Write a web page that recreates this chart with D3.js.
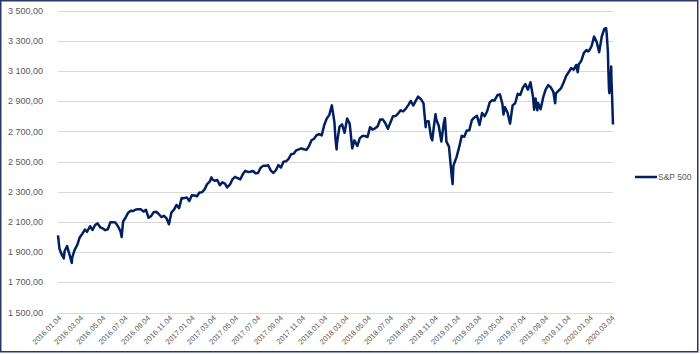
<!DOCTYPE html>
<html>
<head>
<meta charset="utf-8">
<script src="https://cdn.jsdelivr.net/npm/d3@7"></script>
<style>
  html, body { margin: 0; padding: 0; background: #fff; }
  svg { display: block; font-family: "Liberation Sans", Arial, sans-serif; }
  .grid line { stroke: #d9d9d9; stroke-width: 1; }
  .tick-label { fill: #595959; }
</style>
</head>
<body>
<div id="chart"></div>
<script>
// S&P 500 closes (weekly, plus the sharp turning days)
const sp500 = [
  ["2016-01-04", 2012], ["2016-01-08", 1922], ["2016-01-15", 1880], ["2016-01-20", 1859],
  ["2016-01-22", 1906], ["2016-01-29", 1940], ["2016-02-05", 1880], ["2016-02-11", 1829],
  ["2016-02-12", 1864], ["2016-02-19", 1917], ["2016-02-26", 1948], ["2016-03-04", 1999],
  ["2016-03-11", 2022], ["2016-03-18", 2049], ["2016-03-24", 2035], ["2016-04-01", 2072],
  ["2016-04-08", 2047], ["2016-04-15", 2080], ["2016-04-22", 2091], ["2016-04-29", 2065],
  ["2016-05-06", 2057], ["2016-05-13", 2046], ["2016-05-20", 2052], ["2016-05-27", 2099],
  ["2016-06-03", 2099], ["2016-06-10", 2096], ["2016-06-17", 2071], ["2016-06-24", 2037],
  ["2016-06-27", 2000], ["2016-07-01", 2103], ["2016-07-08", 2130], ["2016-07-15", 2162],
  ["2016-07-22", 2175], ["2016-07-29", 2173], ["2016-08-05", 2183], ["2016-08-12", 2184],
  ["2016-08-19", 2184], ["2016-08-26", 2169], ["2016-09-02", 2180], ["2016-09-09", 2128],
  ["2016-09-16", 2139], ["2016-09-23", 2165], ["2016-09-30", 2168], ["2016-10-07", 2153],
  ["2016-10-14", 2133], ["2016-10-21", 2141], ["2016-10-28", 2126], ["2016-11-04", 2085],
  ["2016-11-11", 2164], ["2016-11-18", 2182], ["2016-11-25", 2213], ["2016-12-02", 2192],
  ["2016-12-09", 2259], ["2016-12-16", 2258], ["2016-12-23", 2263], ["2016-12-30", 2239],
  ["2017-01-06", 2277], ["2017-01-13", 2275], ["2017-01-20", 2271], ["2017-01-27", 2295],
  ["2017-02-03", 2297], ["2017-02-10", 2316], ["2017-02-17", 2351], ["2017-02-24", 2367],
  ["2017-03-01", 2396], ["2017-03-03", 2383], ["2017-03-10", 2373], ["2017-03-17", 2378],
  ["2017-03-24", 2344], ["2017-03-31", 2363], ["2017-04-07", 2355], ["2017-04-13", 2329],
  ["2017-04-21", 2349], ["2017-04-28", 2384], ["2017-05-05", 2399], ["2017-05-12", 2390],
  ["2017-05-19", 2382], ["2017-05-26", 2416], ["2017-06-02", 2439], ["2017-06-09", 2432],
  ["2017-06-16", 2433], ["2017-06-23", 2438], ["2017-06-30", 2423], ["2017-07-07", 2425],
  ["2017-07-14", 2459], ["2017-07-21", 2472], ["2017-07-28", 2472], ["2017-08-04", 2476],
  ["2017-08-11", 2441], ["2017-08-18", 2425], ["2017-08-25", 2443], ["2017-09-01", 2477],
  ["2017-09-08", 2461], ["2017-09-15", 2500], ["2017-09-22", 2502], ["2017-09-29", 2519],
  ["2017-10-06", 2549], ["2017-10-13", 2553], ["2017-10-20", 2575], ["2017-10-27", 2581],
  ["2017-11-03", 2588], ["2017-11-10", 2582], ["2017-11-17", 2578], ["2017-11-24", 2602],
  ["2017-12-01", 2642], ["2017-12-08", 2652], ["2017-12-15", 2675], ["2017-12-22", 2683],
  ["2017-12-29", 2674], ["2018-01-05", 2743], ["2018-01-12", 2786], ["2018-01-19", 2810],
  ["2018-01-26", 2873], ["2018-02-02", 2762], ["2018-02-05", 2649], ["2018-02-08", 2581],
  ["2018-02-09", 2620], ["2018-02-16", 2732], ["2018-02-23", 2747], ["2018-03-02", 2691],
  ["2018-03-09", 2786], ["2018-03-16", 2752], ["2018-03-23", 2588], ["2018-03-29", 2641],
  ["2018-04-06", 2604], ["2018-04-13", 2656], ["2018-04-20", 2670], ["2018-04-27", 2670],
  ["2018-05-04", 2663], ["2018-05-11", 2728], ["2018-05-18", 2713], ["2018-05-25", 2721],
  ["2018-06-01", 2735], ["2018-06-08", 2779], ["2018-06-15", 2780], ["2018-06-22", 2755],
  ["2018-06-29", 2718], ["2018-07-06", 2760], ["2018-07-13", 2801], ["2018-07-20", 2802],
  ["2018-07-27", 2819], ["2018-08-03", 2840], ["2018-08-10", 2833], ["2018-08-17", 2850],
  ["2018-08-24", 2875], ["2018-08-31", 2902], ["2018-09-07", 2872], ["2018-09-14", 2905],
  ["2018-09-20", 2931], ["2018-09-28", 2914], ["2018-10-05", 2886], ["2018-10-11", 2728],
  ["2018-10-12", 2767], ["2018-10-19", 2768], ["2018-10-26", 2658], ["2018-10-29", 2641],
  ["2018-11-02", 2723], ["2018-11-07", 2814], ["2018-11-09", 2781], ["2018-11-16", 2736],
  ["2018-11-23", 2633], ["2018-11-30", 2760], ["2018-12-03", 2790], ["2018-12-07", 2633],
  ["2018-12-14", 2600], ["2018-12-21", 2417], ["2018-12-24", 2351], ["2018-12-26", 2468],
  ["2018-12-28", 2486], ["2019-01-04", 2532], ["2019-01-11", 2596], ["2019-01-18", 2671],
  ["2019-01-25", 2665], ["2019-02-01", 2707], ["2019-02-08", 2708], ["2019-02-15", 2776],
  ["2019-02-22", 2793], ["2019-03-01", 2804], ["2019-03-08", 2743], ["2019-03-15", 2822],
  ["2019-03-22", 2801], ["2019-03-29", 2834], ["2019-04-05", 2893], ["2019-04-12", 2907],
  ["2019-04-18", 2905], ["2019-04-26", 2940], ["2019-05-03", 2946], ["2019-05-10", 2881],
  ["2019-05-13", 2812], ["2019-05-17", 2860], ["2019-05-24", 2826], ["2019-05-31", 2752],
  ["2019-06-07", 2873], ["2019-06-14", 2887], ["2019-06-21", 2950], ["2019-06-28", 2942],
  ["2019-07-05", 2990], ["2019-07-12", 3014], ["2019-07-19", 2977], ["2019-07-26", 3026],
  ["2019-08-02", 2932], ["2019-08-05", 2844], ["2019-08-09", 2919], ["2019-08-14", 2840],
  ["2019-08-16", 2889], ["2019-08-23", 2847], ["2019-08-30", 2926], ["2019-09-06", 2979],
  ["2019-09-13", 3007], ["2019-09-20", 2992], ["2019-09-27", 2962], ["2019-10-02", 2887],
  ["2019-10-04", 2952], ["2019-10-11", 2970], ["2019-10-18", 2986], ["2019-10-25", 3023],
  ["2019-11-01", 3067], ["2019-11-08", 3093], ["2019-11-15", 3120], ["2019-11-22", 3110],
  ["2019-11-29", 3141], ["2019-12-03", 3093], ["2019-12-06", 3146], ["2019-12-13", 3169],
  ["2019-12-20", 3221], ["2019-12-27", 3240], ["2019-12-31", 3231], ["2020-01-03", 3235],
  ["2020-01-10", 3265], ["2020-01-17", 3330], ["2020-01-24", 3295], ["2020-01-31", 3226],
  ["2020-02-07", 3328], ["2020-02-14", 3380], ["2020-02-19", 3386], ["2020-02-21", 3338],
  ["2020-02-24", 3226], ["2020-02-25", 3128], ["2020-02-27", 2979], ["2020-02-28", 2954],
  ["2020-03-02", 3090], ["2020-03-03", 3003], ["2020-03-04", 3130], ["2020-03-05", 3024],
  ["2020-03-06", 2972], ["2020-03-09", 2746]
];

const seriesName = "S&P 500";
const yTicks = [1500, 1700, 1900, 2100, 2300, 2500, 2700, 2900, 3100, 3300, 3500];
const xTickLabels = [
  "2016.01.04", "2016.03.04", "2016.05.04", "2016.07.04", "2016.09.04", "2016.11.04",
  "2017.01.04", "2017.03.04", "2017.05.04", "2017.07.04", "2017.09.04", "2017.11.04",
  "2018.01.04", "2018.03.04", "2018.05.04", "2018.07.04", "2018.09.04", "2018.11.04",
  "2019.01.04", "2019.03.04", "2019.05.04", "2019.07.04", "2019.09.04", "2019.11.04",
  "2020.01.04", "2020.03.04"
];

const width = 700, height = 354;
const parseDay = d3.utcParse("%Y-%m-%d");
const parseTick = d3.utcParse("%Y.%m.%d");
const fmtTick = d3.utcFormat("%Y.%m.%d");
const huLocale = d3.formatLocale({ decimal: ",", thousands: "\u00a0", grouping: [3], currency: ["", ""] });
const fmtY = huLocale.format(",.2f");

const data = sp500.map(([d, v]) => ({ date: parseDay(d), value: v }));

const x = d3.scaleUtc()
  .domain([data[0].date, data[data.length - 1].date])
  .range([58, 613]);

const y = d3.scaleLinear()
  .domain([1500, 3500])
  .range([312.5, 10.8]);

const svg = d3.select("#chart").append("svg")
  .attr("width", width)
  .attr("height", height);

// outer frame
svg.append("rect")
  .attr("x", 0.75).attr("y", 0.75)
  .attr("width", width - 3).attr("height", height - 3)
  .attr("fill", "#fff")
  .attr("stroke", "#2a3768")
  .attr("stroke-width", 1.5);

// horizontal gridlines
svg.append("g").attr("class", "grid")
  .selectAll("line")
  .data(yTicks)
  .join("line")
  .attr("x1", x.range()[0]).attr("x2", x.range()[1])
  .attr("y1", d => Math.round(y(d)) + 0.5)
  .attr("y2", d => Math.round(y(d)) + 0.5);

// y labels
svg.append("g")
  .selectAll("text")
  .data(yTicks)
  .join("text")
  .attr("class", "tick-label")
  .attr("x", 43)
  .attr("y", d => y(d))
  .attr("dy", "0.35em")
  .attr("text-anchor", "end")
  .style("font-size", "9px")
  .text(d => fmtY(d));

// x labels, rotated
svg.append("g")
  .selectAll("text")
  .data(xTickLabels.map(parseTick))
  .join("text")
  .attr("class", "tick-label")
  .attr("text-anchor", "end")
  .attr("transform", d => `translate(${x(d) + 4},${y(1500) + 6}) rotate(-45)`)
  .style("font-size", "7.5px")
  .text(d => fmtTick(d));

// series line
const line = d3.line()
  .x(d => x(d.date))
  .y(d => y(d.value));

svg.append("path")
  .datum(data)
  .attr("fill", "none")
  .attr("stroke", "#002060")
  .attr("stroke-width", 2.5)
  .attr("stroke-linejoin", "round")
  .attr("d", line);

// legend
const legend = svg.append("g").attr("transform", "translate(635,177)");
legend.append("line")
  .attr("x1", 0).attr("x2", 22)
  .attr("stroke", "#002060")
  .attr("stroke-width", 2.5);
legend.append("text")
  .attr("class", "tick-label")
  .attr("x", 23)
  .attr("dy", "0.35em")
  .style("font-size", "8.5px")
  .text(seriesName);
</script>
</body>
</html>
